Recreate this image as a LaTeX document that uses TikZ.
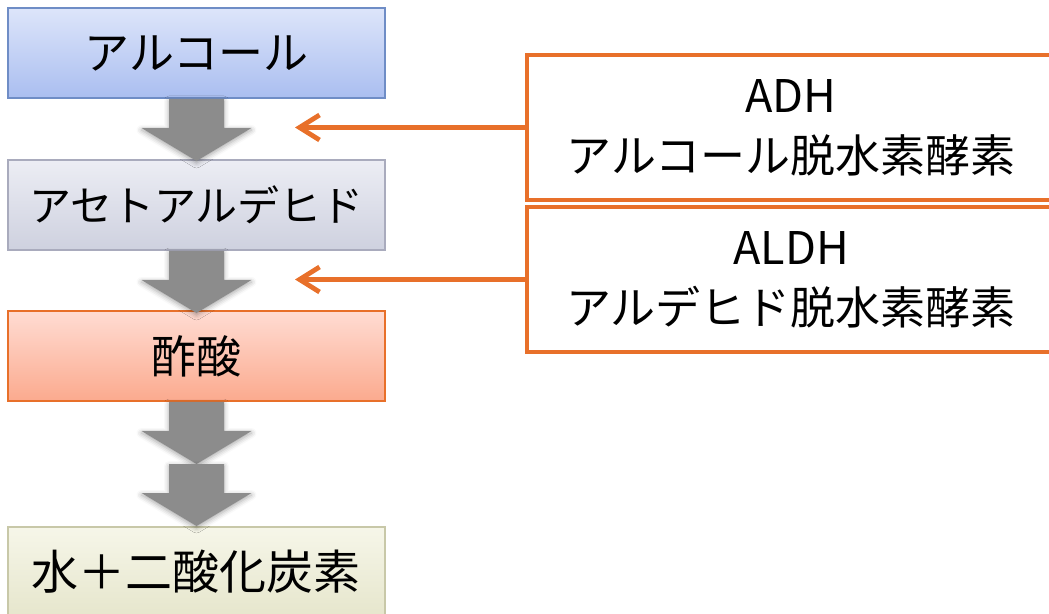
\documentclass[tikz,border=0pt]{standalone}
\usepackage{fontspec}
\setmainfont{Noto Sans CJK JP}
\usetikzlibrary{arrows.meta,shadows.blur}

\definecolor{alctop}{HTML}{DDE5FA}
\definecolor{alcbot}{HTML}{AABEF0}
\definecolor{alcline}{HTML}{6F8DC6}
\definecolor{aldtop}{HTML}{ECEDF4}
\definecolor{aldbot}{HTML}{CED1DF}
\definecolor{aldline}{HTML}{A9ABBD}
\definecolor{acidtop}{HTML}{FFDCD3}
\definecolor{acidbot}{HTML}{FBAA8E}
\definecolor{enzorange}{HTML}{E8702A}
\definecolor{endtop}{HTML}{F6F6E9}
\definecolor{endbot}{HTML}{E6E6CC}
\definecolor{endline}{HTML}{C8C8A8}
\definecolor{fatgrey}{HTML}{8C8C8C}

\begin{document}
\begin{tikzpicture}[x=0.5pt,y=-0.5pt,
  stepbox/.style={draw,line width=1pt,minimum width=188.5pt,minimum height=45pt,
    inner sep=0pt,font=\fontsize{22.5}{27}\selectfont},
  enzbox/.style={draw=enzorange,line width=2.2pt,minimum width=264pt,minimum height=72.5pt,
    align=center,font=\fontsize{22.5}{30}\selectfont},
  enzarrow/.style={enzorange,line width=2.4pt,-{Straight Barb[length=10pt,width=12.5pt]}},
  fatarrow/.pic={
    \fill[fatgrey,blur shadow={shadow xshift=0pt,shadow yshift=-1pt,
        shadow blur radius=2.5pt,shadow opacity=35}]
      (-27.5,0) -- (27.5,0) -- (27.5,29) -- (55,29) -- (0,62)
      -- (-55,29) -- (-27.5,29) -- cycle;
  }]
\clip (0,0) rectangle (1049,614);

% left column
\node[stepbox,draw=alcline,top color=alctop,bottom color=alcbot] (alc) at (196.5,53) {アルコール};
\node[stepbox,draw=aldline,top color=aldtop,bottom color=aldbot] (ald) at (196.5,205)
  {\fontsize{21}{27}\selectfont アセトアルデヒド};
\node[stepbox,draw=enzorange,top color=acidtop,bottom color=acidbot] (acid) at (196.5,356) {酢酸};
\node[stepbox,draw=endline,top color=endtop,bottom color=endbot] (end) at (196.5,572)
  {\fontsize{23.5}{27}\selectfont 水＋二酸化炭素};

\pic at (alc.south) {fatarrow};
\pic at (ald.south) {fatarrow};
\pic at (acid.south) {fatarrow};
\path (acid.south) ++(0,62) coordinate (mid);
\pic at (mid) {fatarrow};

% enzymes
\node[enzbox] (adh) at (791,127.5) {ADH\\アルコール脱水素酵素};
\node[enzbox] (aldh) at (791,279.5) {ALDH\\アルデヒド脱水素酵素};

\coordinate (adhtip) at (295,127.5);
\coordinate (aldhtip) at (295,279.5);
\draw[enzarrow] (adh.west) -- (adhtip);
\draw[enzarrow] (aldh.west) -- (aldhtip);
\end{tikzpicture}
\end{document}
